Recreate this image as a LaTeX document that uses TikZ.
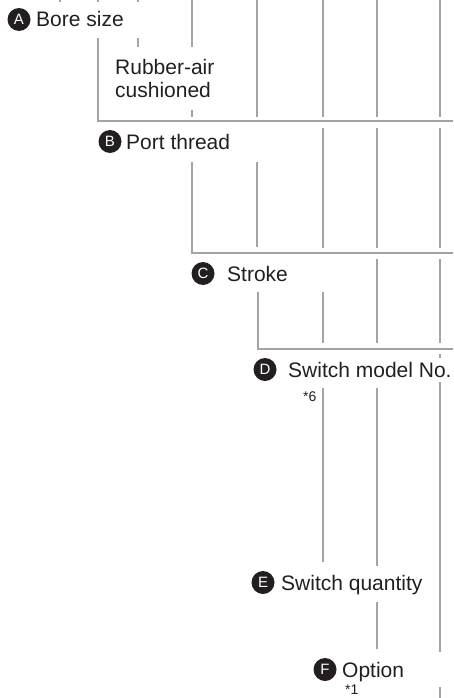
\documentclass[tikz,border=0pt]{standalone}
\usepackage{fontspec}
\setmainfont{Liberation Sans}
\definecolor{rulegray}{RGB}{163,163,168}
\definecolor{ink}{RGB}{35,31,32}
\tikzset{
  bar/.style={draw=rulegray, line width=2pt},
  tag/.style={circle, fill=ink, text=white, minimum size=23pt, inner sep=0pt, font=\fontsize{15}{15}\selectfont},
  lbl/.style={anchor=base west, inner sep=0pt, text=ink, font=\fontsize{21}{25}\selectfont},
  note/.style={anchor=base west, inner sep=0pt, text=ink, font=\fontsize{14}{14}\selectfont},
}
\begin{document}
\begin{tikzpicture}[x=1pt, y=-1pt]
\useasboundingbox (0,0) rectangle (453,698);

% labels
\node[tag] (tagA) at (19,19.5) {A};
\node[lbl] (bore) at (36,27) {Bore size};
\node[lbl] (rubber) at (115,75) {Rubber-air};
\node[lbl] (cushion) at (115,98) {cushioned};
\node[tag] (tagB) at (110,141.5) {B};
\node[lbl] (port) at (126,149) {Port thread};
\node[tag] (tagC) at (203,273.5) {C};
\node[lbl] (stroke) at (227,281) {Stroke};
\node[tag] (tagD) at (265,369.5) {D};
\node[lbl] (switch) at (288,377) {Switch model No.};
\node[note] (six) at (303,401) {*6};
\node[tag] (tagE) at (263,582.5) {E};
\node[lbl] (qty) at (281,590) {Switch quantity};
\node[tag] (tagF) at (325,669.5) {F};
\node[lbl] (option) at (342,677) {Option};
\node[note] (one) at (345,694) {*1};

% A
\foreach \x in {60,98,138}
  \draw[bar] (\x,0) -- (\x,2.5);
\foreach \x in {257,323,377,440}
  \draw[bar] (\x,0) -- (\x,117);
\draw[bar] (192,0) -- (192,47);
\draw[bar] (192,110) -- (192,117);
\draw[bar] (138,38) -- (138,47);
\draw[bar] (98,38) -- (98,121) -- (453,121);

% B
\foreach \x in {323,377,440}
  \draw[bar] (\x,128) -- (\x,248);
\draw[bar] (257,162) -- (257,247);
\draw[bar] (192,162) -- (192,253) -- (453,253);

% C
\foreach \x in {377,440}
  \draw[bar] (\x,259) -- (\x,343);
\draw[bar] (323,292) -- (323,343);
\draw[bar] (258,292) -- (258,349) -- (453,349);

% D
\draw[bar] (440,354) -- (440,358);
\draw[bar] (440,382) -- (440,652);
\draw[bar] (323,388) -- (323,562);
\draw[bar] (377,388) -- (377,566);

% E, F
\draw[bar] (377,602) -- (377,649);
\draw[bar] (440,687) -- (440,698);
\end{tikzpicture}
\end{document}
